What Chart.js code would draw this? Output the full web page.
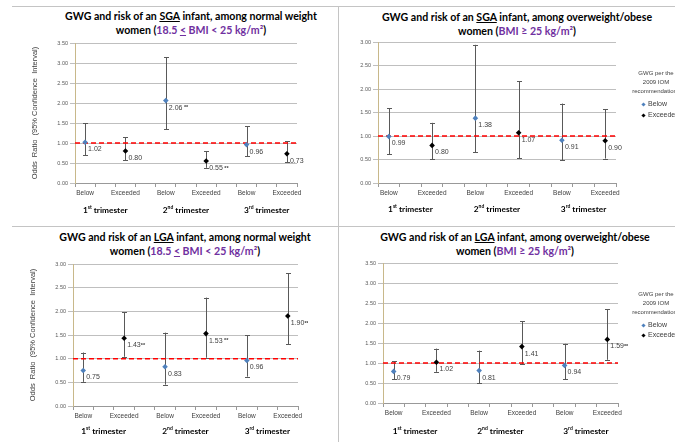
<!DOCTYPE html>
<html>
<head>
<meta charset="utf-8">
<script src="https://cdn.jsdelivr.net/npm/chart.js@4/dist/chart.umd.min.js"></script>
<style>
  body { margin: 0; width: 675px; height: 442px; background: #fff; position: relative; overflow: hidden; font-family: "Liberation Sans", Arial, sans-serif; }
  canvas { position: absolute; }
  .title { position: absolute; width: 320px; font-family: Lato, sans-serif; font-weight: bold; font-size: 10.6px; line-height: 14px; text-align: center; white-space: nowrap; color: #000; }
  .title .bmi { color: #7030a0; }
  .sep { position: absolute; background: #c4c4c4; }
  .lgTitle { position: absolute; width: 80px; text-align: center; font-size: 6px; line-height: 9px; color: #404040; white-space: nowrap; }
  .lgItem { position: absolute; font-size: 7px; line-height: 8px; color: #404040; white-space: nowrap; padding-left: 6px; }
  .lgItem i { position: absolute; left: 0; top: 2.5px; width: 3px; height: 3px; transform: rotate(45deg); }
</style>
</head>
<body>

<div class="sep" style="left:12px;top:6px;width:663px;height:1px"></div>
<div class="sep" style="left:12px;top:226px;width:663px;height:1px"></div>
<div class="sep" style="left:338px;top:6px;width:1px;height:436px"></div>

<div class="title" style="left:31px;top:9px">GWG and risk of an <u>SGA</u> infant, among normal weight<br>women (<span class="bmi">18.5 <u>&lt;</u> BMI &lt; 25 kg/m²</span>)</div>
<div class="title" style="left:357px;top:10px">GWG and risk of an <u>SGA</u> infant, among overweight/obese<br>women (<span class="bmi">BMI ≥ 25 kg/m²</span>)</div>
<div class="title" style="left:25px;top:230px">GWG and risk of an <u>LGA</u> infant, among normal weight<br>women (<span class="bmi">18.5 <u>&lt;</u> BMI &lt; 25 kg/m²</span>)</div>
<div class="title" style="left:355px;top:230px">GWG and risk of an <u>LGA</u> infant, among overweight/obese<br>women (<span class="bmi">BMI ≥ 25 kg/m²</span>)</div>

<canvas id="sgaNormal"></canvas>
<canvas id="sgaOver"></canvas>
<canvas id="lgaNormal"></canvas>
<canvas id="lgaOver"></canvas>

<div class="lgTitle" style="left:616px;top:69px">GWG per the<br>2009 IOM<br>recommendations</div>
<div class="lgItem" style="left:642px;top:100px"><i style="background:#4f81bd"></i>Below</div>
<div class="lgItem" style="left:642px;top:111px"><i style="background:#000"></i>Exceeded</div>

<div class="lgTitle" style="left:616px;top:290px">GWG per the<br>2009 IOM<br>recommendations</div>
<div class="lgItem" style="left:642px;top:321px"><i style="background:#4f81bd"></i>Below</div>
<div class="lgItem" style="left:642px;top:331px"><i style="background:#000"></i>Exceeded</div>

<script>
const categories = ["Below", "Exceeded", "Below", "Exceeded", "Below", "Exceeded"];
const trimesters = [["1", "st"], ["2", "nd"], ["3", "rd"]];

// SGA, normal weight
const sgaNormalOR = [1.02, 0.80, 2.06, 0.55, 0.96, 0.73];
const sgaNormalLow = [0.70, 0.57, 1.35, 0.38, 0.67, 0.52];
const sgaNormalHigh = [1.50, 1.15, 3.15, 0.80, 1.42, 1.05];
const sgaNormalSig = ["", "", " **", " **", "", ""];

// SGA, overweight/obese
const sgaOverOR = [0.99, 0.80, 1.38, 1.07, 0.91, 0.90];
const sgaOverLow = [0.61, 0.51, 0.65, 0.53, 0.48, 0.52];
const sgaOverHigh = [1.59, 1.28, 2.94, 2.16, 1.69, 1.57];
const sgaOverSig = ["", "", "", "", "", ""];

// LGA, normal weight
const lgaNormalOR = [0.75, 1.43, 0.83, 1.53, 0.96, 1.90];
const lgaNormalLow = [0.51, 1.04, 0.45, 1.02, 0.62, 1.30];
const lgaNormalHigh = [1.13, 1.98, 1.55, 2.29, 1.49, 2.80];
const lgaNormalSig = ["", "**", "", " **", "", "**"];

// LGA, overweight/obese
const lgaOverOR = [0.79, 1.02, 0.81, 1.41, 0.94, 1.59];
const lgaOverLow = [0.60, 0.78, 0.50, 0.97, 0.60, 1.08];
const lgaOverHigh = [1.05, 1.36, 1.31, 2.04, 1.48, 2.34];
const lgaOverSig = ["", "", "", "", "", "**"];

const BLUE = "#4f81bd";
const YW = 50, XH = 40, PT = 10, PR = 10;

// error bars, value labels and trimester labels
const barsPlugin = {
  id: "bars",
  beforeDatasetsDraw(chart, args, o) {
    const xs = chart.scales.x, ys = chart.scales.y, ctx = chart.ctx;
    ctx.save();
    ctx.strokeStyle = "#595959";
    ctx.lineWidth = 1;
    o.low.forEach((lo, i) => {
      const x = Math.round(xs.getPixelForValue(i + 1)) + 0.5;
      const y1 = ys.getPixelForValue(lo), y2 = ys.getPixelForValue(o.high[i]);
      ctx.beginPath();
      ctx.moveTo(x, y1); ctx.lineTo(x, y2);
      ctx.moveTo(x - 2.5, Math.round(y1) + 0.5); ctx.lineTo(x + 2.5, Math.round(y1) + 0.5);
      ctx.moveTo(x - 2.5, Math.round(y2) + 0.5); ctx.lineTo(x + 2.5, Math.round(y2) + 0.5);
      ctx.stroke();
    });
    ctx.restore();
  },
  afterDatasetsDraw(chart, args, o) {
    const xs = chart.scales.x, ys = chart.scales.y, ctx = chart.ctx;
    ctx.save();
    ctx.fillStyle = "#404040";
    ctx.textBaseline = "middle";
    ctx.textAlign = "left";
    o.or.forEach((v, i) => {
      const x = xs.getPixelForValue(i + 1) + 3;
      const y = ys.getPixelForValue(v) + 7;
      ctx.font = "7px 'Liberation Sans'";
      const t = v.toFixed(2);
      ctx.fillText(t, x, y);
      if (o.sig[i]) {
        const w = ctx.measureText(t).width;
        ctx.font = "bold 5.5px 'Liberation Sans'";
        ctx.fillText(o.sig[i], x + w, y);
      }
    });
    // trimester labels under each pair
    ctx.fillStyle = "#000";
    trimesters.forEach((t, k) => {
      const cx = xs.getPixelForValue(2 * k + 1.5);
      const y = chart.chartArea.bottom + o.trimY;
      ctx.font = "bold 8.3px Lato";
      const w1 = ctx.measureText(t[0]).width;
      const w3 = ctx.measureText(" trimester").width;
      ctx.font = "bold 5px Lato";
      const w2 = ctx.measureText(t[1]).width;
      let x = cx - (w1 + w2 + w3) / 2;
      ctx.font = "bold 8.3px Lato";
      ctx.fillText(t[0], x, y);
      ctx.font = "bold 5px Lato";
      ctx.fillText(t[1], x + w1, y - 2.5);
      ctx.font = "bold 8.3px Lato";
      ctx.fillText(" trimester", x + w1 + w2, y);
    });
    ctx.restore();
  }
};

const tickVals = [];
for (let i = 1; i <= categories.length; i++) tickVals.push(i - 0.25, i, i + 0.25);

function makeChart(id, rect, yMax, or, low, high, sig, yTitle, trimY) {
  const cv = document.getElementById(id);
  cv.width = rect.r - rect.l + YW + PR;
  cv.height = rect.b - rect.t + PT + XH;
  cv.style.left = (rect.l - YW) + "px";
  cv.style.top = (rect.t - PT) + "px";

  const below = [], exceeded = [];
  or.forEach((v, i) => (i % 2 === 0 ? below : exceeded).push({ x: i + 1, y: v }));

  return new Chart(cv, {
    data: {
      datasets: [
        { type: "scatter", label: "Below", data: below, pointStyle: "rectRot", pointRadius: 2.8,
          backgroundColor: BLUE, borderWidth: 0, order: 0 },
        { type: "scatter", label: "Exceeded", data: exceeded, pointStyle: "rectRot", pointRadius: 2.8,
          backgroundColor: "#000", borderWidth: 0, order: 0 },
        { type: "line", label: "ref", data: [{ x: 0.75, y: 1 }, { x: 6.25, y: 1 }], borderColor: "#ff0000",
          borderWidth: 1.5, borderDash: [5, 3], pointRadius: 0, order: 3 }
      ]
    },
    options: {
      responsive: false,
      animation: false,
      layout: { padding: { left: 0, top: PT, right: PR, bottom: 0 } },
      plugins: {
        legend: { display: false },
        tooltip: { enabled: false },
        bars: { or, low, high, sig, trimY }
      },
      scales: {
        x: {
          type: "linear", min: 0.75, max: 6.25,
          afterBuildTicks: s => { s.ticks = tickVals.map(v => ({ value: v })); },
          afterFit: s => { s.height = XH; },
          ticks: {
            autoSkip: false, maxRotation: 0, padding: 2, color: "#404040",
            font: { family: "'Liberation Sans'", size: 6.5 },
            callback: v => Number.isInteger(v) ? categories[v - 1] : ""
          },
          grid: {
            drawOnChartArea: false, tickLength: 4,
            tickColor: c => (c.tick && Number.isInteger(c.tick.value)) ? "rgba(0,0,0,0)" : "#999"
          },
          border: { color: "#999" }
        },
        y: {
          min: 0, max: yMax,
          afterFit: s => { s.width = YW; },
          ticks: {
            stepSize: 0.5, padding: 2, color: "#595959",
            font: { family: "'Liberation Sans'", size: 5.5 },
            callback: v => v.toFixed(2)
          },
          grid: { color: "#bfbfbf", tickLength: 5 },
          border: { color: "#c8b88a" },
          title: {
            display: yTitle, text: "Odds  Ratio  (95% Confidence  Interval)", color: "#404040",
            font: { family: "'Liberation Sans'", size: 7.5 }, padding: { top: 5, bottom: 0 }
          }
        }
      }
    },
    plugins: [barsPlugin]
  });
}

makeChart("sgaNormal", { l: 75, t: 43, r: 297, b: 183 }, 3.5, sgaNormalOR, sgaNormalLow, sgaNormalHigh, sgaNormalSig, true, 27);
makeChart("sgaOver", { l: 378, t: 42, r: 616, b: 183 }, 3.0, sgaOverOR, sgaOverLow, sgaOverHigh, sgaOverSig, false, 26);
makeChart("lgaNormal", { l: 73, t: 264, r: 298, b: 406 }, 3.0, lgaNormalOR, lgaNormalLow, lgaNormalHigh, lgaNormalSig, true, 25);
makeChart("lgaOver", { l: 383, t: 263, r: 618, b: 403 }, 3.5, lgaOverOR, lgaOverLow, lgaOverHigh, lgaOverSig, false, 28);
</script>
</body>
</html>
